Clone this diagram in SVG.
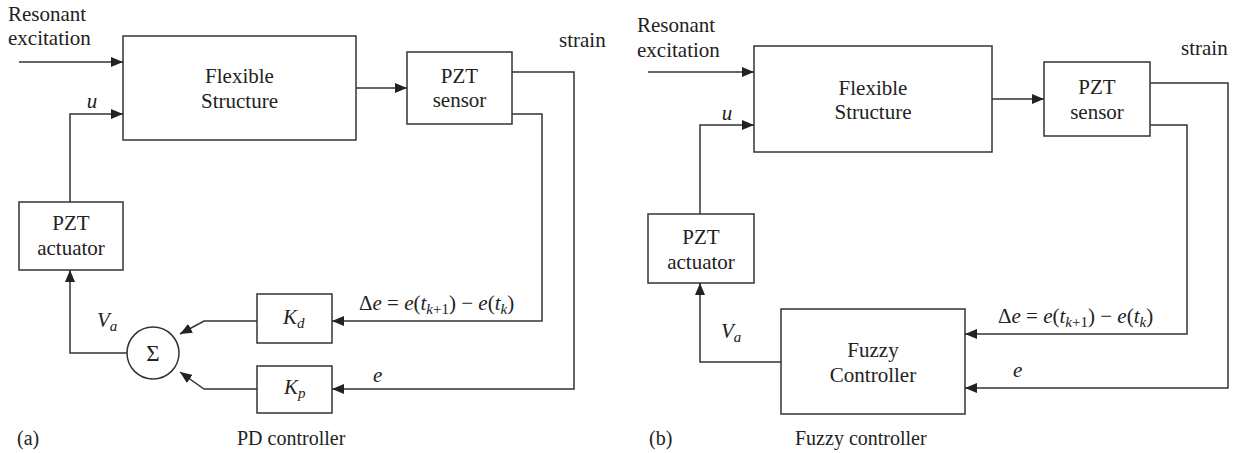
<svg xmlns="http://www.w3.org/2000/svg" width="1237" height="453" viewBox="0 0 1237 453" font-family="'Liberation Serif', 'Times New Roman', Times, serif">
<defs>
<marker id="ah" markerWidth="12" markerHeight="10" refX="12" refY="5" orient="auto" markerUnits="userSpaceOnUse">
<path d="M0,0 L12,5 L0,10 z" fill="#222"/>
</marker>
<style>
.box{fill:#fff;stroke:#333;stroke-width:1.5}
.ln{fill:none;stroke:#333;stroke-width:1.5;marker-end:url(#ah)}
text{font-family:'Liberation Serif','Times New Roman',Times,serif;font-size:21px;fill:#222}
.c{text-anchor:middle}
.i{font-style:italic}
.s{font-size:15px}
.cap{font-size:20px}
</style>
</defs>
<rect width="1237" height="453" fill="#fff"/>

<!-- (a) PD controller -->
<g id="a-flex"><rect class="box" x="123" y="36" width="233" height="104"/>
<text class="c" x="239.5" y="83">Flexible</text><text class="c" x="239.5" y="108">Structure</text></g>
<g id="a-sensor"><rect class="box" x="407" y="52" width="105" height="72"/>
<text class="c" x="459.5" y="83">PZT</text><text class="c" x="459.5" y="107">sensor</text></g>
<g id="a-act"><rect class="box" x="19" y="202" width="104" height="68"/>
<text class="c" x="71" y="230">PZT</text><text class="c" x="71" y="255">actuator</text></g>
<g id="a-kd"><rect class="box" x="257" y="294" width="75" height="49"/>
<text x="283" y="324"><tspan class="i">K</tspan><tspan class="i s" dy="4">d</tspan></text></g>
<g id="a-kp"><rect class="box" x="257" y="366" width="75" height="47"/>
<text x="284" y="394"><tspan class="i">K</tspan><tspan class="i s" dy="4">p</tspan></text></g>
<g id="a-sum"><circle class="box" cx="153" cy="353" r="26"/>
<text class="c" x="153" y="361" style="font-size:23px">Σ</text></g>

<g id="a-connectors">
<path class="ln" d="M19,62 H123"/>
<path class="ln" d="M70,202 V114 H123"/>
<path class="ln" d="M356,88 H407"/>
<path class="ln" d="M512,72 H574 V389 H332"/>
<path class="ln" d="M512,114 H542 V321 H332"/>
<path class="ln" d="M257,321 H204 L180,334"/>
<path class="ln" d="M257,389 H204 L180,372"/>
<path class="ln" d="M127,353 H70 V270"/>
</g>

<g id="a-labels">
<text x="8" y="21">Resonant</text>
<text x="8" y="45">excitation</text>
<text class="i c" x="92" y="108">u</text>
<text x="559" y="47">strain</text>
<text x="97" y="327"><tspan class="i">V</tspan><tspan class="i s" dy="4">a</tspan></text>
<text x="359" y="310">Δ<tspan class="i">e</tspan> = <tspan class="i">e</tspan>(<tspan class="i">t</tspan><tspan class="s" dy="4"><tspan class="i">k</tspan>+1</tspan><tspan dy="-4">) − </tspan><tspan class="i">e</tspan>(<tspan class="i">t</tspan><tspan class="i s" dy="4">k</tspan><tspan dy="-4">)</tspan></text>
<text class="i" x="373" y="382">e</text>
<text class="cap" x="17" y="445">(a)</text>
<text class="cap" x="237" y="445">PD controller</text>
</g>

<!-- (b) Fuzzy controller -->
<g id="b-flex"><rect class="box" x="754" y="46" width="238" height="106"/>
<text class="c" x="873" y="95">Flexible</text><text class="c" x="873" y="119">Structure</text></g>
<g id="b-sensor"><rect class="box" x="1044" y="62" width="106" height="74"/>
<text class="c" x="1097" y="94">PZT</text><text class="c" x="1097" y="119">sensor</text></g>
<g id="b-act"><rect class="box" x="648" y="214" width="106" height="69"/>
<text class="c" x="701" y="244">PZT</text><text class="c" x="701" y="269">actuator</text></g>
<g id="b-fuzzy"><rect class="box" x="781" y="309" width="184" height="105"/>
<text class="c" x="873" y="357">Fuzzy</text><text class="c" x="873" y="382">Controller</text></g>

<g id="b-connectors">
<path class="ln" d="M648,72 H754"/>
<path class="ln" d="M700,214 V125 H754"/>
<path class="ln" d="M992,99 H1044"/>
<path class="ln" d="M1150,83 H1228 V388 H965"/>
<path class="ln" d="M1150,125 H1187 V334 H965"/>
<path class="ln" d="M781,362 H700 V283"/>
</g>

<g id="b-labels">
<text x="637" y="32">Resonant</text>
<text x="637" y="57">excitation</text>
<text class="i c" x="727" y="120">u</text>
<text x="1181" y="55">strain</text>
<text x="721" y="338"><tspan class="i">V</tspan><tspan class="i s" dy="4">a</tspan></text>
<text x="998" y="323">Δ<tspan class="i">e</tspan> = <tspan class="i">e</tspan>(<tspan class="i">t</tspan><tspan class="s" dy="4"><tspan class="i">k</tspan>+1</tspan><tspan dy="-4">) − </tspan><tspan class="i">e</tspan>(<tspan class="i">t</tspan><tspan class="i s" dy="4">k</tspan><tspan dy="-4">)</tspan></text>
<text class="i" x="1013" y="377">e</text>
<text class="cap" x="649" y="445">(b)</text>
<text class="cap" x="795" y="445">Fuzzy controller</text>
</g>
</svg>
